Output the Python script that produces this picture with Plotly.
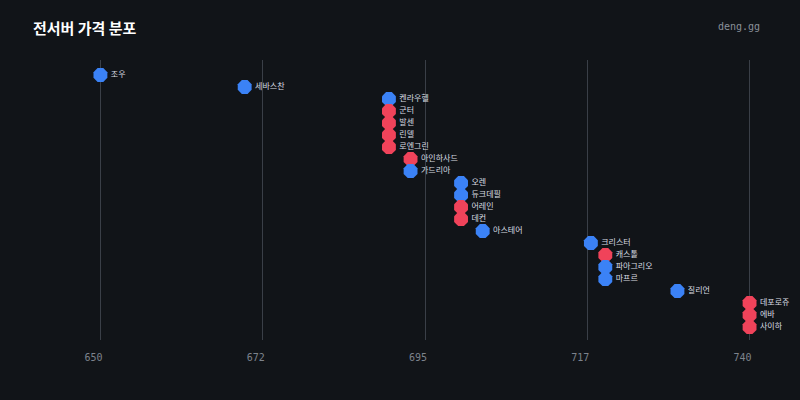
import plotly.graph_objects as go

names = ['조우', '세바스찬', '켄라우헬', '군터', '발센', '린델', '로엔그린', '아인하사드', '가드리아',
         '오렌', '듀크데필', '어레인', '데컨', '아스테어', '크리스터', '캐스톨', '파아그리오', '마프르',
         '질리언', '데포로쥬', '에바', '사이하']
prices = [650, 670, 690, 690, 690, 690, 690, 693, 693,
          700, 700, 700, 700, 703, 718, 720, 720, 720,
          730, 740, 740, 740]
groups = ['b', 'b', 'b', 'r', 'r', 'r', 'r', 'r', 'b',
          'b', 'b', 'r', 'r', 'b', 'b', 'r', 'b', 'b',
          'b', 'r', 'r', 'r']
tick_vals = [650, 672.5, 695, 717.5, 740]
tick_text = ['650', '672', '695', '717', '740']

colors = {'b': '#3b82f6', 'r': '#f0435a'}
rows = list(range(len(names)))

# 650..740 spans x=100..750 px; pad range by 2 units so edge gridlines show
ppu = 650 / 90
pad = 2

fig = go.Figure()
fig.add_trace(go.Scatter(
    x=prices, y=rows, mode='markers+text',
    text=names, textposition='middle right',
    textfont=dict(family='Noto Sans CJK KR', size=8, color='#d8dce2'),
    marker=dict(symbol='octagon', size=15, color=[colors[g] for g in groups], line=dict(width=0)),
    cliponaxis=False, hoverinfo='skip', showlegend=False))

fig.update_layout(
    width=800, height=400,
    margin=dict(l=100 - pad * ppu, r=50 - pad * ppu, t=60, b=60),
    paper_bgcolor='#111418', plot_bgcolor='#111418',
    xaxis=dict(range=[650 - pad, 740 + pad], tickvals=tick_vals, ticktext=tick_text,
               showgrid=True, gridcolor='#3a3f47', gridwidth=1, zeroline=False,
               showline=False, ticklabelshift=-7, ticklabelstandoff=10,
               tickfont=dict(family='DejaVu Sans Mono', size=10, color='#7d838c')),
    yaxis=dict(range=[22.08, -1.25], visible=False, showgrid=False, zeroline=False),
    annotations=[
        dict(text='<b>전서버 가격 분포</b>', x=30, y=28, xref='paper', yref='paper',
             xanchor='left', yanchor='middle', showarrow=False,
             font=dict(family='Noto Sans CJK KR', size=15, color='#ffffff')),
        dict(text='deng.gg', x=762, y=26, xref='paper', yref='paper',
             xanchor='right', yanchor='middle', showarrow=False,
             font=dict(family='DejaVu Sans Mono', size=10, color='#8a9098')),
    ],
)
# annotation positions in pixels -> paper coordinates
x0 = 100 - pad * ppu
for a in fig.layout.annotations:
    a.x = (a.x - x0) / (94 * ppu)
    a.y = (340 - a.y) / 280

fig.write_html("out.html", config=dict(displayModeBar=False),
               post_script="document.body.style.margin='0';document.body.style.background='#111418';")
